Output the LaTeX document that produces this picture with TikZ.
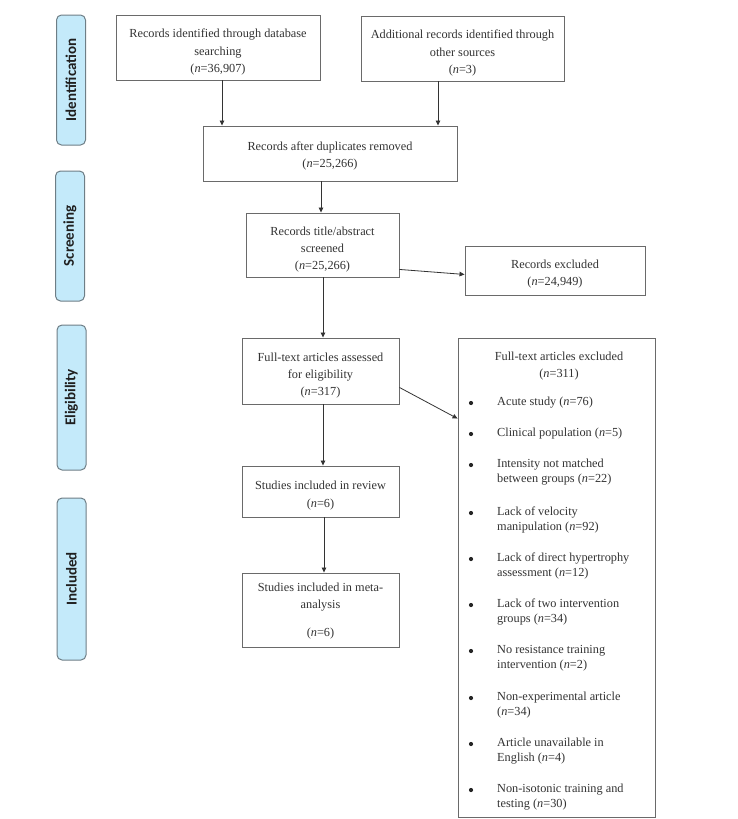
\documentclass[tikz,border=0pt]{standalone}
\usepackage{fontspec}
\setmainfont{Liberation Serif}
\newfontfamily\labelfont{Carlito}
\usetikzlibrary{arrows.meta}
\definecolor{txt}{HTML}{333333}
\definecolor{bord}{HTML}{6A6A6A}
\definecolor{phasefill}{HTML}{C4EAFA}
\definecolor{phasebord}{HTML}{6E7E86}
\tikzset{
  box/.style={draw=bord, line width=0.9pt, fill=white, inner sep=0pt},
  boxtext/.style={text=txt, align=center, inner sep=0pt,
    font=\fontsize{12.3}{17.4}\selectfont},
  phase/.style={draw=phasebord, line width=1pt, fill=phasefill, rounded corners=5pt,
    rotate=90, minimum height=29pt, inner sep=0pt, text=black!88,
    font=\labelfont\bfseries\fontsize{15}{16}\selectfont},
  arr/.style={draw=black!80, line width=0.8pt, -{Triangle[length=5pt,width=4.5pt]}},
  item/.style={anchor=north west, inner sep=0pt, align=left, text=txt,
    font=\fontsize{12.3}{15}\selectfont},
  bul/.style={circle, fill=black!85, inner sep=0pt, minimum size=4.2pt}
}
\begin{document}
\begin{tikzpicture}[x=1pt,y=-1pt]
\useasboundingbox (0,0) rectangle (738,819);
% phase labels
\node[phase, minimum width=130pt] (pid) at (71,80) {Identification};
\node[phase, minimum width=130pt] (psc) at (70,236) {Screening};
\node[phase, minimum width=145pt] (pel) at (71.5,397.5) {Eligibility};
\node[phase, minimum width=162pt] (pin) at (71.5,579) {Included};
% boxes
\node[box, minimum width=204pt, minimum height=65pt] (b1) at (218,47.5) {};
\node[boxtext] (b1t) at ([yshift=-4.5pt]b1.center)
  {Records identified through database\\searching\\(\textit{n}=36,907)};
\node[box, minimum width=203pt, minimum height=65pt] (b2) at (462.5,48.5) {};
\node[boxtext] (b2t) at ([yshift=-4.5pt]b2.center)
  {Additional records identified through\\other sources\\(\textit{n}=3)};
\node[box, minimum width=254pt, minimum height=55pt] (b3) at (330,153.5) {};
\node[boxtext] (b3t) at ([yshift=-2.5pt]b3.center)
  {Records after duplicates removed\\(\textit{n}=25,266)};
\node[box, minimum width=153pt, minimum height=64pt] (b4) at (322.5,245) {};
\node[boxtext] (b4t) at ([yshift=-4.5pt]b4.center)
  {Records title/abstract\\screened\\(\textit{n}=25,266)};
\node[box, minimum width=180pt, minimum height=49pt] (b5) at (555,270.5) {};
\node[boxtext] (b5t) at ([yshift=-3.5pt]b5.center)
  {Records excluded\\(\textit{n}=24,949)};
\node[box, minimum width=157pt, minimum height=66pt] (b6) at (320.5,371) {};
\node[boxtext] (b6t) at ([yshift=-4.5pt]b6.center)
  {Full-text articles assessed\\for eligibility\\(\textit{n}=317)};
\node[box, minimum width=197pt, minimum height=479pt] (b7) at (556.5,577.5) {};
\node[box, minimum width=157pt, minimum height=51pt] (b8) at (320.5,491.5) {};
\node[boxtext] (b8t) at ([yshift=-4pt]b8.center)
  {Studies included in review\\(\textit{n}=6)};
\node[box, minimum width=157pt, minimum height=74pt] (b9) at (320.5,610) {};
\node[boxtext] (b9t) at ([yshift=-1pt]b9.center)
  {Studies included in meta-\\analysis\\[10pt](\textit{n}=6)};
% excluded list
\node[boxtext] (t7) at (559,366)
  {Full-text articles excluded\\(\textit{n}=311)};
\foreach \name/\y/\t in {
  i1/402/{Acute study (\textit{n}=76)},
  i2/433/{Clinical population (\textit{n}=5)},
  i3/464/{Intensity not matched\\between groups (\textit{n}=22)},
  i4/512/{Lack of velocity\\manipulation (\textit{n}=92)},
  i5/558/{Lack of direct hypertrophy\\assessment (\textit{n}=12)},
  i6/604/{Lack of two intervention\\groups (\textit{n}=34)},
  i7/650/{No resistance training\\intervention (\textit{n}=2)},
  i8/697/{Non-experimental article\\(\textit{n}=34)},
  i9/743/{Article unavailable in\\English (\textit{n}=4)},
  i10/789/{Non-isotonic training and\\testing (\textit{n}=30)}} {
  \node[bul] (d\name) at (471,\y+1) {};
  \node[item] (\name) at (497,\y-5) {\t};
}
% connectors
\draw[arr] ([xshift=4pt]b1.south) -- ([xshift=4pt]b1.south |- b3.north);
\draw[arr] ([xshift=-24.5pt]b2.south) -- ([xshift=-24.5pt]b2.south |- b3.north);
\draw[arr] ([xshift=-9pt]b3.south) -- ([xshift=-9pt]b3.south |- b4.north);
\draw[arr] ([yshift=8pt]b4.south east) -- ([yshift=21pt]b5.south west);
\draw[arr] ([xshift=0.5pt]b4.south) -- ([xshift=0.5pt]b4.south |- b6.north);
\draw[arr] ([yshift=17pt]b6.south east) -- ([yshift=-81pt]b7.north west);
\draw[arr] ([xshift=2.5pt]b6.south) -- ([xshift=2.5pt]b6.south |- b8.north);
\draw[arr] ([xshift=3.5pt]b8.south) -- ([xshift=3.5pt]b8.south |- b9.north);
\end{tikzpicture}
\end{document}
